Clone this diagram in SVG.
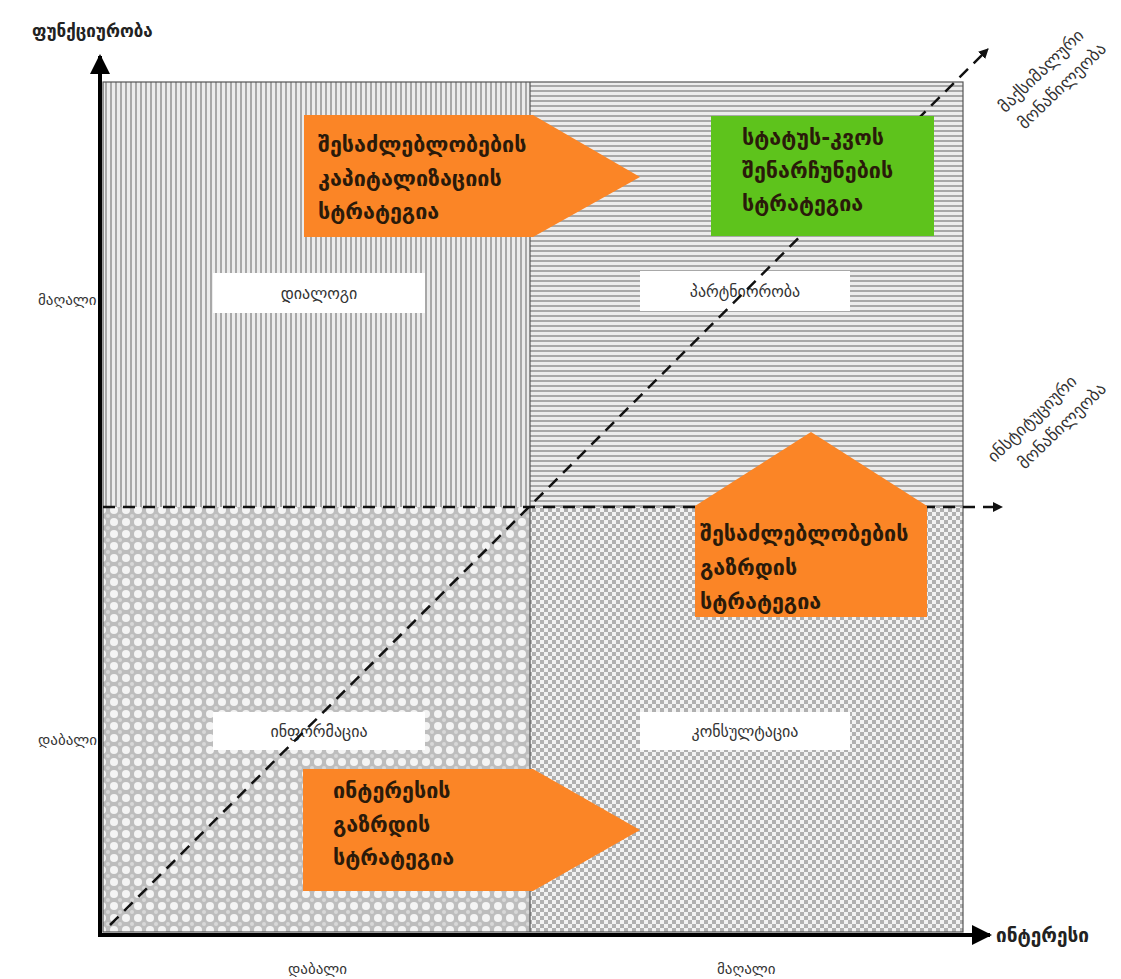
<svg xmlns="http://www.w3.org/2000/svg" width="1121" height="979" viewBox="0 0 1121 979">
<style>
.t{font-family:"DejaVu Sans","Noto Sans",sans-serif;fill:#222}
.lab{font-size:15px;fill:#333}
.ql{font-size:16px;fill:#333}
.big{font-size:21.5px;font-weight:bold;fill:#2a1a0a}
.rot{font-size:17px;fill:#333}
.box{fill:#fff}
.dash{stroke:#111;stroke-width:2.5;stroke-dasharray:12 8;fill:none}
.axis{stroke:#000;stroke-width:4;fill:none}
.div{stroke:#555;stroke-width:1.2;fill:none}
</style>
<defs>
<pattern id="pv" width="5" height="5" patternUnits="userSpaceOnUse"><rect width="5" height="5" fill="#ececec"/><rect width="2" height="5" fill="#a8a8a8"/></pattern>
<pattern id="ph" width="5" height="5" patternUnits="userSpaceOnUse"><rect width="5" height="5" fill="#ececec"/><rect width="5" height="2" fill="#a8a8a8"/></pattern>
<pattern id="pd" width="12" height="12" patternUnits="userSpaceOnUse"><rect width="12" height="12" fill="#bdbdbd"/><circle cx="6" cy="6" r="4" fill="#f4f4f4"/><circle cx="0" cy="0" r="2" fill="#d8d8d8"/><circle cx="12" cy="0" r="2" fill="#d8d8d8"/><circle cx="0" cy="12" r="2" fill="#d8d8d8"/><circle cx="12" cy="12" r="2" fill="#d8d8d8"/></pattern>
<pattern id="pc" width="8" height="8" patternUnits="userSpaceOnUse"><rect width="8" height="8" fill="#f2f2f2"/><rect width="4" height="4" fill="#b0b0b0"/><rect x="4" y="4" width="4" height="4" fill="#b0b0b0"/></pattern>
<marker id="ah" viewBox="0 0 10 10" refX="9" refY="5" markerWidth="5" markerHeight="5" orient="auto" markerUnits="strokeWidth"><path d="M0,0 L10,5 L0,10 z" fill="#000"/></marker>
<marker id="ahs" viewBox="0 0 10 10" refX="9" refY="5" markerWidth="4" markerHeight="4" orient="auto" markerUnits="strokeWidth"><path d="M0,0 L10,5 L0,10 z" fill="#111"/></marker>
</defs>
<g id="quadrants">
<rect x="103" y="82" width="427" height="425" fill="url(#pv)"/>
<rect x="530" y="82" width="433" height="425" fill="url(#ph)"/>
<rect x="103" y="507" width="427" height="425" fill="url(#pd)"/>
<rect x="530" y="507" width="433" height="425" fill="url(#pc)"/>
<rect x="103" y="82" width="860" height="850" class="div" stroke="#666" stroke-width="1.5"/>
<line x1="530" y1="82" x2="530" y2="932" class="div"/>
</g>
<g id="quadrant-labels">
<g id="dialog"><rect class="box" x="213" y="273" width="212" height="40"/><text class="t ql" x="319" y="299" text-anchor="middle">დიალოგი</text></g>
<g id="partnership"><rect class="box" x="640" y="271" width="210" height="40"/><text class="t ql" x="745" y="297" text-anchor="middle">პარტნიორობა</text></g>
<g id="information"><rect class="box" x="213" y="712" width="212" height="38"/><text class="t ql" x="319" y="737" text-anchor="middle">ინფორმაცია</text></g>
<g id="consultation"><rect class="box" x="640" y="712" width="210" height="38"/><text class="t ql" x="745" y="737" text-anchor="middle">კონსულტაცია</text></g>
</g>
<g id="connectors">
<line class="dash" x1="110" y1="925" x2="988" y2="49" marker-end="url(#ahs)"/>
<line class="dash" x1="103" y1="507" x2="1002" y2="507" marker-end="url(#ahs)"/>
<line class="axis" x1="100" y1="937" x2="100" y2="56" marker-end="url(#ah)"/>
<line class="axis" x1="98" y1="935" x2="990" y2="935" marker-end="url(#ah)"/>
</g>
<g id="strategy-capitalization">
<polygon points="304,115 533,115 640,177 533,237 304,237" fill="#fb8526"/>
<text class="t big" x="318"><tspan x="318" y="152">შესაძლებლობების</tspan><tspan x="318" y="186">კაპიტალიზაციის</tspan><tspan x="318" y="219">სტრატეგია</tspan></text>
</g>
<g id="strategy-status-quo">
<rect x="711" y="116" width="223" height="120" fill="#5ec31c"/>
<text class="t big" x="742" fill="#0e3a05"><tspan x="742" y="145">სტატუს-კვოს</tspan><tspan x="742" y="178">შენარჩუნების</tspan><tspan x="742" y="211">სტრატეგია</tspan></text>
</g>
<g id="strategy-opportunities">
<polygon points="695,506 811,432 927,506 927,617 695,617" fill="#fb8526"/>
<text class="t big" x="700"><tspan x="700" y="541">შესაძლებლობების</tspan><tspan x="700" y="575">გაზრდის</tspan><tspan x="700" y="609">სტრატეგია</tspan></text>
</g>
<g id="strategy-interest">
<polygon points="303,769 533,769 640,830 533,891 303,891" fill="#fb8526"/>
<text class="t big" x="333"><tspan x="333" y="798">ინტერესის</tspan><tspan x="333" y="832">გაზრდის</tspan><tspan x="333" y="865">სტრატეგია</tspan></text>
</g>
<g id="axis-labels">
<text class="t" x="32" y="37" font-size="17" font-weight="bold">ფუნქციურობა</text>
<text class="t lab" x="38" y="305">მაღალი</text>
<text class="t lab" x="38" y="745">დაბალი</text>
<text class="t lab" x="288" y="974">დაბალი</text>
<text class="t lab" x="717" y="974">მაღალი</text>
<text class="t" x="996" y="942" font-size="19" font-weight="bold">ინტერესი</text>
<text class="t rot" transform="translate(1045,75) rotate(-44)" text-anchor="middle">მაქსიმალური</text>
<text class="t rot" transform="translate(1066,90) rotate(-44)" text-anchor="middle">მონაწილეობა</text>
<text class="t rot" transform="translate(1036,423) rotate(-44)" text-anchor="middle">ინსტიტუციური</text>
<text class="t rot" transform="translate(1066,430) rotate(-44)" text-anchor="middle">მონაწილეობა</text>
</g>
</svg>
